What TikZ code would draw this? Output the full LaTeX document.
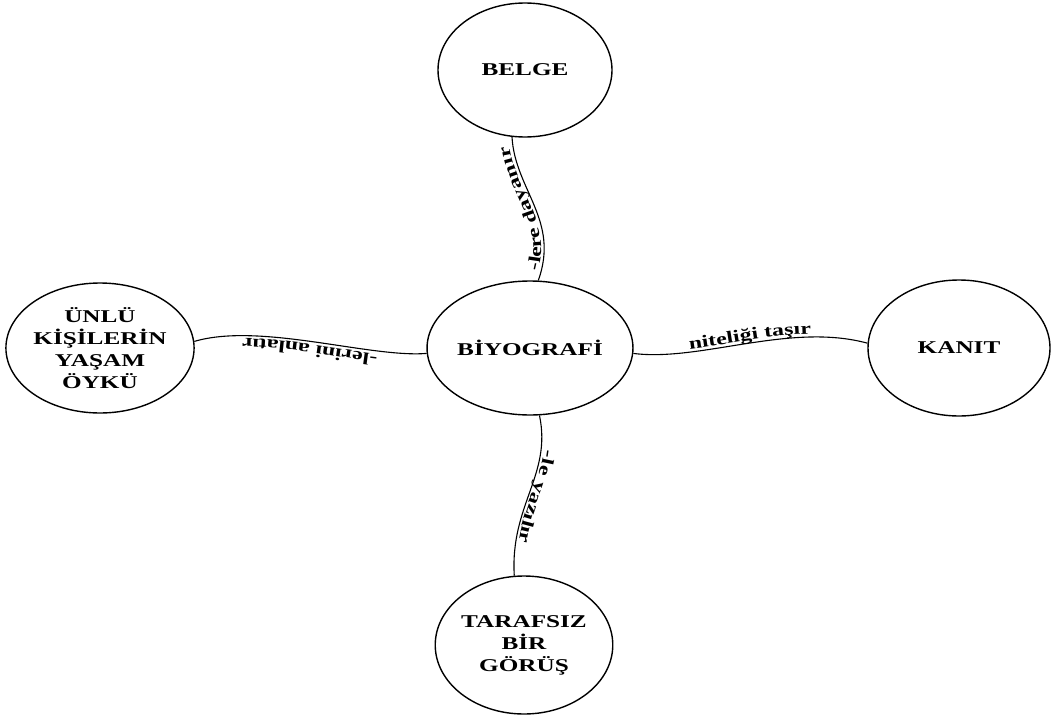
\documentclass[tikz,border=0pt]{standalone}
\usepackage{fontspec}
\setmainfont{Liberation Serif}
\newfontfamily\nodefont[FakeStretch=1.4]{Liberation Serif}
\usetikzlibrary{shapes.geometric,decorations.text}

\newcommand{\labfont}{\nodefont\bfseries\fontsize{17}{20}\selectfont}

\tikzset{
  concept/.style={draw, line width=1.4pt, ellipse, inner sep=0pt,
    align=center, font=\nodefont\bfseries\fontsize{18}{22}\selectfont},
  link/.style={line width=1.1pt},
  linklabel/.style={postaction={decorate, decoration={text along path,
    text align=center, raise=3pt, text={|\labfont|#1}}}}
}

\begin{document}
\begin{tikzpicture}[x=1pt, y=-1pt]
  \useasboundingbox (0,0) rectangle (1055,715);

  % concepts
  \node[concept, minimum width=174pt, minimum height=134pt] (belge) at (525,70) {BELGE};
  \node[concept, minimum width=180pt, minimum height=134pt] (bio) at (530,348) {BİYOGRAFİ};
  \node[concept, minimum width=186pt, minimum height=130pt] (unlu) at (100,348) {ÜNLÜ\\KİŞİLERİN\\YAŞAM\\ÖYKÜ};
  \node[concept, minimum width=182pt, minimum height=136pt] (kanit) at (959,348) {KANIT};
  \node[concept, minimum width=174pt, minimum height=138pt] (taraf) at (524,645) {TARAFSIZ\\BİR\\GÖRÜŞ};

  % wavy links with their labels written along them
  \draw[link, linklabel={-lere dayanır}] (bio.83) .. controls (560,220) and (515,190) .. (belge.259);
  \draw[link, linklabel={niteliği taşır}] (bio.-3) .. controls (700,362) and (790,322) .. (kanit.177);
  \draw[link, linklabel={-lerini anlatır}] (bio.183) .. controls (370,358) and (260,322) .. (unlu.4);
  \draw[link, linklabel={-le yazılır}] (bio.278) .. controls (552,475) and (510,505) .. (taraf.98);
\end{tikzpicture}
\end{document}
